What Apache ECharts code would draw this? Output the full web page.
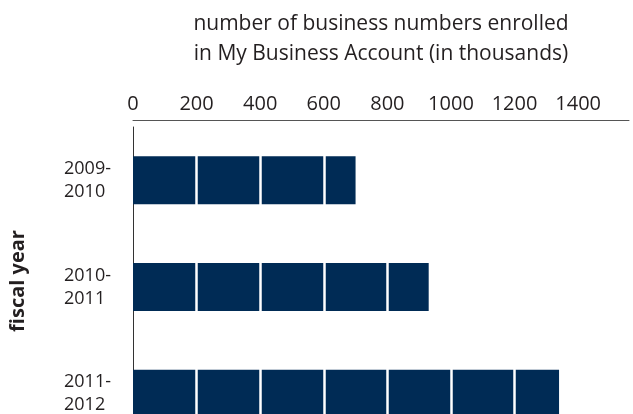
<!DOCTYPE html>
<html>
<head>
<meta charset="utf-8">
<script src="https://cdn.jsdelivr.net/npm/echarts@6/dist/echarts.min.js"></script>
<style>html,body{margin:0;padding:0;background:#fff;}#c{width:633px;height:414px;}</style>
</head>
<body>
<div id="c"></div>
<script>
const categories = ['2009-\n2010', '2010-\n2011', '2011-\n2012'];
const enrolled = [700, 930, 1340];
const ticks = [0, 200, 400, 600, 800, 1000, 1200, 1400];
const titleLines = ['number of business numbers enrolled', 'in My Business Account (in thousands)'];
const yTitle = 'fiscal year';

const font = '"Open Sans", "Noto Sans", sans-serif';
const ink = '#231f20';
const chart = echarts.init(document.getElementById('c'), null, {renderer: 'canvas'});
chart.setOption({
  animation: false,
  title: {
    text: titleLines.join('\n'),
    left: 376, top: 4, textAlign: 'center',
    textStyle: {fontFamily: font, fontSize: 21, fontWeight: 'normal', color: ink, lineHeight: 30}
  },
  graphic: [{
    type: 'text', x: 18, y: 281, rotation: Math.PI / 2,
    style: {text: yTitle, fontFamily: font, fontSize: 20, fontWeight: 'bold', fill: ink,
            align: 'center', verticalAlign: 'middle'}
  }],
  grid: {left: 133, top: 127, width: 496, height: 320, containLabel: false, outerBoundsMode: 'none'},
  xAxis: {
    type: 'value', position: 'top', min: 0, max: 1560, interval: 200, offset: 7,
    axisLine: {show: true, lineStyle: {color: '#555', width: 1}},
    axisTick: {show: false}, splitLine: {show: false},
    axisLabel: {
      margin: 6, fontFamily: font, fontSize: 20, color: ink,
      formatter: v => ticks.indexOf(v) >= 0 ? String(v) : ''
    }
  },
  yAxis: {
    type: 'category', inverse: true, data: categories, offset: 3,
    axisLine: {show: true, lineStyle: {color: '#333', width: 1}},
    axisTick: {show: false}, splitLine: {show: false},
    axisLabel: {align: 'left', margin: 66, fontFamily: font, fontSize: 18, lineHeight: 23, color: ink}
  },
  series: [{
    type: 'bar', data: enrolled, barWidth: 48,
    itemStyle: {color: '#002b55'},
    markLine: {
      silent: true, symbol: ['none', 'none'],
      label: {show: false},
      lineStyle: {color: '#ffffff', width: 2.5, type: 'solid'},
      emphasis: {disabled: true},
      data: ticks.filter(v => v > 0).map(v => ({xAxis: v}))
    }
  }]
});
</script>
</body>
</html>
